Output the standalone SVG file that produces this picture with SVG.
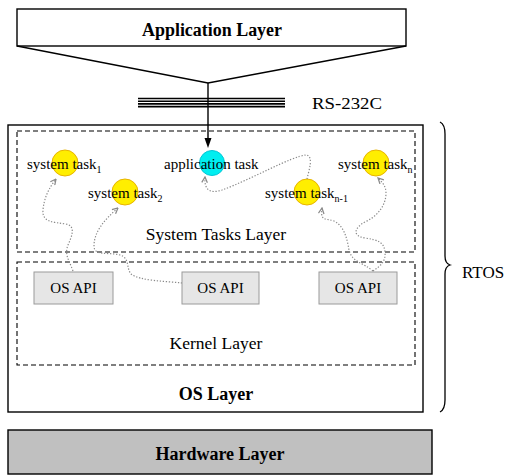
<svg xmlns="http://www.w3.org/2000/svg" width="507" height="475" viewBox="0 0 507 475">
  <defs>
    <style>
      text { font-family: "Liberation Serif", "Times New Roman", serif; fill: #000; }
      .bold { font-weight: bold; }
      .lbl { font-size: 15px; }
      .sub { font-size: 10px; }
      .layer { font-size: 17.5px; }
      .title { font-size: 18px; font-weight: bold; }
      .frame { fill: #fff; stroke: #000; stroke-width: 1.4; }
      .dash { fill: none; stroke: #000; stroke-width: 1.1; stroke-dasharray: 5 3; }
      .api { fill: #e6e6e6; stroke: #9a9a9a; stroke-width: 1; }
      .sys { fill: #ffee00; stroke: #e8b400; stroke-width: 1; }
      .app { fill: #00eef0; stroke: #00c6d6; stroke-width: 1; }
      .flow { fill: none; stroke: #8a8a8a; stroke-width: 1.2; stroke-dasharray: 1.3 1.7; marker-end: url(#grey-arrow); }
    </style>
    <marker id="grey-arrow" viewBox="0 0 10 10" refX="9" refY="5" markerWidth="7" markerHeight="7" markerUnits="userSpaceOnUse" orient="auto">
      <path d="M1,1 L9,5 L1,9" fill="none" stroke="#8a8a8a" stroke-width="1.8"/>
    </marker>
  </defs>

  <!-- Application layer with funnel down to the serial link -->
  <g id="application-layer">
    <rect x="17" y="9" width="389" height="37" class="frame"/>
    <polyline points="17,46 208,83 406,46" fill="none" stroke="#000" stroke-width="1.3"/>
    <text x="142" y="35.5" class="title" textLength="140" lengthAdjust="spacingAndGlyphs">Application Layer</text>
  </g>

  <!-- RS-232C serial cable -->
  <g id="rs232c">
    <g stroke="#000" stroke-width="1.6">
      <line x1="138" y1="98.5" x2="285" y2="98.5"/>
      <line x1="138" y1="101.2" x2="285" y2="101.2"/>
      <line x1="138" y1="103.9" x2="285" y2="103.9"/>
      <line x1="138" y1="106.6" x2="285" y2="106.6"/>
    </g>
    <text x="312" y="108.5" font-size="17.5" textLength="70" lengthAdjust="spacingAndGlyphs">RS-232C</text>
  </g>

  <!-- OS layer container -->
  <g id="os-layer">
    <rect x="8" y="125" width="415" height="287" class="frame"/>
    <text x="216" y="400" text-anchor="middle" class="title">OS Layer</text>
  </g>

  <g id="system-tasks-layer">
    <rect x="17" y="131" width="398" height="121" class="dash"/>
    <text x="216" y="240" text-anchor="middle" class="layer">System Tasks Layer</text>
  </g>

  <g id="kernel-layer">
    <rect x="17" y="262" width="398" height="103" class="dash"/>
    <text x="216" y="349" text-anchor="middle" class="layer">Kernel Layer</text>
  </g>

  <g id="os-api-1">
    <rect x="34" y="272" width="79" height="32" class="api"/>
    <text x="73.5" y="293" text-anchor="middle" class="lbl">OS API</text>
  </g>
  <g id="os-api-2">
    <rect x="182" y="272" width="77" height="32" class="api"/>
    <text x="220.5" y="293" text-anchor="middle" class="lbl">OS API</text>
  </g>
  <g id="os-api-3">
    <rect x="319" y="272" width="78" height="32" class="api"/>
    <text x="358" y="293" text-anchor="middle" class="lbl">OS API</text>
  </g>

  <!-- Tasks -->
  <g id="system-task-1">
    <circle cx="65" cy="163" r="13" class="sys"/>
    <text x="27" y="169" class="lbl">system task<tspan class="sub" dy="4">1</tspan></text>
  </g>
  <g id="system-task-2">
    <circle cx="125" cy="192" r="13" class="sys"/>
    <text x="88" y="198" class="lbl">system task<tspan class="sub" dy="4">2</tspan></text>
  </g>
  <g id="application-task">
    <circle cx="212" cy="163" r="12.5" class="app"/>
    <text x="164" y="169" class="lbl">application task</text>
  </g>
  <g id="system-task-n-1">
    <circle cx="307" cy="192" r="13" class="sys"/>
    <text x="265" y="198" class="lbl">system task<tspan class="sub" dy="4">n-1</tspan></text>
  </g>
  <g id="system-task-n">
    <circle cx="376" cy="163" r="13" class="sys"/>
    <text x="338" y="169" class="lbl">system task<tspan class="sub" dy="4">n</tspan></text>
  </g>

  <!-- Hardware layer -->
  <g id="hardware-layer">
    <rect x="8" y="430" width="424" height="44" fill="#c0c0c0" stroke="#000" stroke-width="1.4"/>
    <text x="220" y="460" text-anchor="middle" class="title">Hardware Layer</text>
  </g>

  <!-- RTOS brace -->
  <g id="rtos">
    <path d="M440,122 C444,124 445,128 445,134 L445,256 C445,262 447,264 450,265 C447,266 445,268 445,274 L445,400 C445,406 444,410 440,412" fill="none" stroke="#000" stroke-width="1.3"/>
    <text x="462" y="278" font-size="17">RTOS</text>
  </g>

  <!-- Connectors -->
  <g id="connectors">
    <line x1="208" y1="83" x2="208" y2="139" stroke="#000" stroke-width="1.4"/>
    <polygon points="204.5,138 211.5,138 208,148" fill="#000"/>
    <path class="flow" d="M73,271 C70,262 64,255 68,245 C72,236 76,226 66,224 C52,222 42,222 43,210 C44,198 49,188 56,179"/>
    <path class="flow" d="M182,283 C165,281 140,281 131,274 C126,268 130,258 120,255 C108,252 94,256 94,246 C94,232 104,220 118,208"/>
    <path class="flow" d="M307,179 C309,170 314,156 306,155 C292,156 250,180 222,190 C210,194 204,190 205,177"/>
    <path class="flow" d="M373,271 C362,262 352,262 349,250 C347,238 344,226 334,221 C326,218 320,222 322,208"/>
    <path class="flow" d="M373,271 C380,266 386,262 385,252 C384,242 378,240 365,238 C352,236 354,228 365,222 C378,216 386,205 386,193 C386,186 382,182 378,178"/>
  </g>
</svg>
